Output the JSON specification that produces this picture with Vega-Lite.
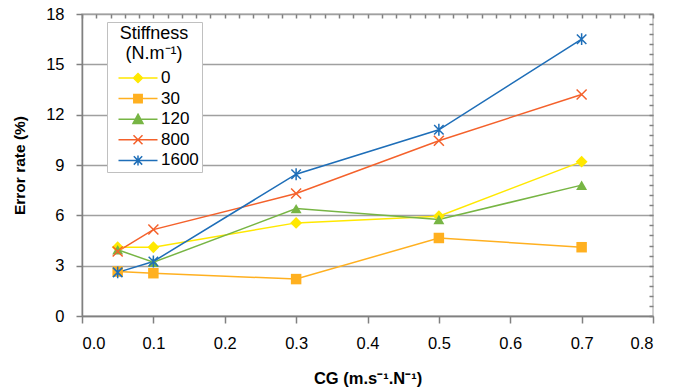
{
  "$schema": "https://vega.github.io/schema/vega-lite/v6.json",
  "width": 571,
  "height": 302,
  "autosize": "none",
  "padding": {"left": 82, "top": 14, "right": 25, "bottom": 75},
  "background": "white",
  "config": {
    "font": "Liberation Sans",
    "view": {"stroke": "#c0c0c0", "strokeWidth": 1.5},
    "axis": {"labelFont": "Liberation Sans", "titleFont": "Liberation Sans", "labelColor": "#000000", "titleColor": "#000000"},
    "legend": {"titleFont": "Liberation Sans", "labelFont": "Liberation Sans"}
  },
  "data": {
    "values": [
      {"cg": 0.05, "err": 4.1, "s": "0"},
      {"cg": 0.1, "err": 4.1, "s": "0"},
      {"cg": 0.3, "err": 5.55, "s": "0"},
      {"cg": 0.5, "err": 5.95, "s": "0"},
      {"cg": 0.7, "err": 9.2, "s": "0"},
      {"cg": 0.05, "err": 2.65, "s": "30"},
      {"cg": 0.1, "err": 2.55, "s": "30"},
      {"cg": 0.3, "err": 2.2, "s": "30"},
      {"cg": 0.5, "err": 4.65, "s": "30"},
      {"cg": 0.7, "err": 4.1, "s": "30"},
      {"cg": 0.05, "err": 3.95, "s": "120"},
      {"cg": 0.1, "err": 3.2, "s": "120"},
      {"cg": 0.3, "err": 6.4, "s": "120"},
      {"cg": 0.5, "err": 5.75, "s": "120"},
      {"cg": 0.7, "err": 7.8, "s": "120"},
      {"cg": 0.05, "err": 3.85, "s": "800"},
      {"cg": 0.1, "err": 5.15, "s": "800"},
      {"cg": 0.3, "err": 7.3, "s": "800"},
      {"cg": 0.5, "err": 10.45, "s": "800"},
      {"cg": 0.7, "err": 13.2, "s": "800"},
      {"cg": 0.05, "err": 2.6, "s": "1600"},
      {"cg": 0.1, "err": 3.25, "s": "1600"},
      {"cg": 0.3, "err": 8.45, "s": "1600"},
      {"cg": 0.5, "err": 11.1, "s": "1600"},
      {"cg": 0.7, "err": 16.5, "s": "1600"}
    ]
  },
  "resolve": {"axis": {"x": "independent", "y": "independent"}},
  "layer": [
    {
      "mark": {"type": "line", "strokeWidth": 1.5},
      "encoding": {
        "x": {
          "field": "cg", "type": "quantitative",
          "scale": {"domain": [0, 0.8], "nice": false, "zero": false},
          "axis": {
            "title": "CG (m.s⁻¹.N⁻¹)",
            "values": [0, 0.1, 0.2, 0.3, 0.4, 0.5, 0.6, 0.7, 0.8],
            "format": ".1f",
            "grid": false,
            "labelFontSize": 16.5,
            "labelPadding": 12,
            "tickSize": 7, "tickWidth": 1.5, "tickColor": "#808080",
            "domainColor": "#808080", "domainWidth": 1.5,
            "titleFontSize": 16.5, "titleFontWeight": "bold", "titlePadding": 19
          }
        },
        "y": {
          "field": "err", "type": "quantitative",
          "scale": {"domain": [0, 18], "nice": false},
          "axis": {
            "title": "Error rate (%)",
            "values": [0, 3, 6, 9, 12, 15, 18],
            "grid": true, "gridColor": "#a0a0a0", "gridWidth": 1.5,
            "labelFontSize": 16.5,
            "labelPadding": 12,
            "tickSize": 6, "tickWidth": 1.5, "tickColor": "#808080",
            "domainColor": "#808080", "domainWidth": 1.5,
            "titleFontSize": 15.5, "titleFontWeight": "bold", "titlePadding": 18
          }
        },
        "color": {
          "field": "s", "type": "nominal",
          "scale": {
            "domain": ["0", "30", "120", "800", "1600"],
            "range": ["#FFE800", "#FFB020", "#77B544", "#F4612B", "#1E6EB8"]
          },
          "legend": {
            "title": ["\u2002\u00a0Stiffness\u00a0\u2002", "(N.m⁻¹)"],
            "orient": "none",
            "legendX": 25,
            "legendY": 8,
            "padding": 3,
            "strokeColor": "#c0c0c0",
            "fillColor": "white",
            "titleFontSize": 18,
            "titleFontWeight": "normal",
            "titleColor": "#000000",
            "titleLineHeight": 20,
            "titleAnchor": "middle",
            "titleAlign": "center",
            "titlePadding": 4,
            "labelFontSize": 17,
            "labelColor": "#000000",
            "labelOffset": 12,
            "symbolOffset": 17,
            "symbolSize": 400,
            "rowPadding": 1.6,
            "encode": {
              "symbols": {
                "update": {
                  "shape": {"signal": "datum.value === '0' ? 'M-1.95,0L1.95,0M0,-0.45L0.45,0L0,0.45L-0.45,0Z' : datum.value === '30' ? 'M-1.95,0L1.95,0M-0.42,-0.42L0.42,-0.42L0.42,0.42L-0.42,0.42Z' : datum.value === '120' ? 'M-1.95,0L1.95,0M0,-0.5L0.5,0.42L-0.5,0.42Z' : datum.value === '800' ? 'M-1.95,0L1.95,0M-0.45,-0.45L0.45,0.45M-0.45,0.45L0.45,-0.45' : 'M-1.95,0L1.95,0M-0.42,-0.42L0.42,0.42M-0.42,0.42L0.42,-0.42M0,-0.5L0,0.5'"},
                  "fill": {"scale": "color", "field": "value"},
                  "stroke": {"scale": "color", "field": "value"},
                  "strokeWidth": {"value": 1.5},
                  "opacity": {"value": 1}
                }
              }
            }
          }
        }
      }
    },
    {
      "transform": [{"filter": {"field": "s", "equal": "0"}}],
      "mark": {"type": "point", "shape": "diamond", "filled": true, "opacity": 1, "size": 140},
      "encoding": {
        "x": {
          "field": "cg", "type": "quantitative",
          "axis": {
            "title": null, "labels": false, "domain": false, "grid": false,
            "values": [0, 0.02, 0.04, 0.06, 0.08, 0.1, 0.12, 0.14, 0.16, 0.18, 0.2, 0.22, 0.24, 0.26, 0.28, 0.3, 0.32, 0.34, 0.36, 0.38, 0.4, 0.42, 0.44, 0.46, 0.48, 0.5, 0.52, 0.54, 0.56, 0.58, 0.6, 0.62, 0.64, 0.66, 0.68, 0.7, 0.72, 0.74, 0.76, 0.78, 0.8],
            "tickSize": -4, "tickWidth": 1.5, "tickColor": "#808080"
          }
        },
        "y": {
          "field": "err", "type": "quantitative",
          "axis": {
            "title": null, "labels": false, "domain": false, "grid": false,
            "values": [0, 0.6, 1.2, 1.8, 2.4, 3, 3.6, 4.2, 4.8, 5.4, 6, 6.6, 7.2, 7.8, 8.4, 9, 9.6, 10.2, 10.8, 11.4, 12, 12.6, 13.2, 13.8, 14.4, 15, 15.6, 16.2, 16.8, 17.4, 18],
            "tickSize": -4, "tickWidth": 1.5, "tickColor": "#808080"
          }
        },
        "color": {"field": "s", "type": "nominal", "legend": null}
      }
    },
    {
      "transform": [{"filter": {"field": "s", "equal": "30"}}],
      "mark": {"type": "point", "shape": "square", "filled": true, "opacity": 1, "size": 110},
      "encoding": {
        "x": {"field": "cg", "type": "quantitative", "axis": null},
        "y": {"field": "err", "type": "quantitative", "axis": null},
        "color": {"field": "s", "type": "nominal", "legend": null}
      }
    },
    {
      "transform": [{"filter": {"field": "s", "equal": "120"}}],
      "mark": {"type": "point", "shape": "triangle-up", "filled": true, "opacity": 1, "size": 120},
      "encoding": {
        "x": {"field": "cg", "type": "quantitative", "axis": null},
        "y": {"field": "err", "type": "quantitative", "axis": null},
        "color": {"field": "s", "type": "nominal", "legend": null}
      }
    },
    {
      "transform": [{"filter": {"field": "s", "equal": "800"}}],
      "mark": {"type": "point", "shape": "M-1,-1L1,1M-1,1L1,-1", "filled": false, "opacity": 1, "size": 100, "strokeWidth": 1.5},
      "encoding": {
        "x": {"field": "cg", "type": "quantitative", "axis": null},
        "y": {"field": "err", "type": "quantitative", "axis": null},
        "color": {"field": "s", "type": "nominal", "legend": null}
      }
    },
    {
      "transform": [{"filter": {"field": "s", "equal": "1600"}}],
      "mark": {"type": "point", "shape": "M-1,-1L1,1M-1,1L1,-1M0,-1.25L0,1.25", "filled": false, "opacity": 1, "size": 90, "strokeWidth": 1.5},
      "encoding": {
        "x": {"field": "cg", "type": "quantitative", "axis": null},
        "y": {"field": "err", "type": "quantitative", "axis": null},
        "color": {"field": "s", "type": "nominal", "legend": null}
      }
    }
  ]
}
